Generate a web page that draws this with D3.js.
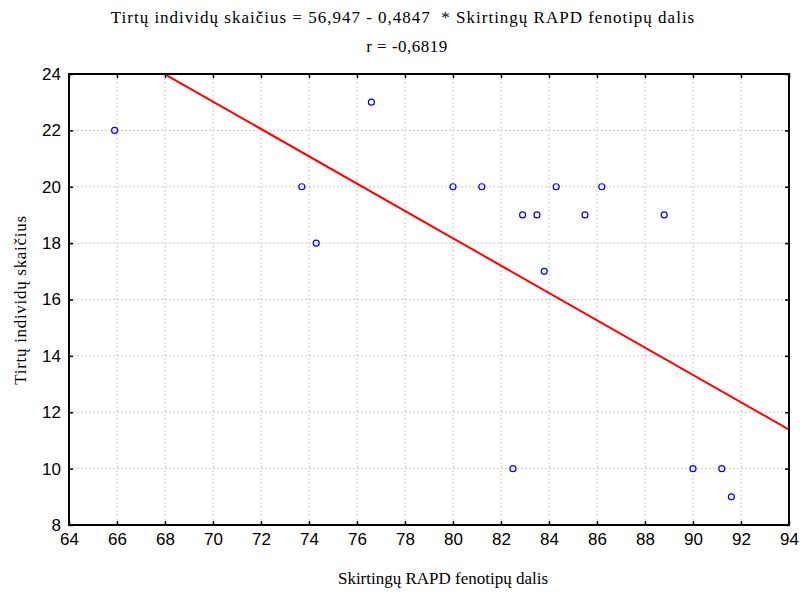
<!DOCTYPE html>
<html>
<head>
<meta charset="utf-8">
<script src="https://cdn.jsdelivr.net/npm/d3@7"></script>
<style>
  body { margin: 0; background: #fff; }
  .tick text { font-family: "Liberation Sans", Arial, sans-serif; font-size: 17px; fill: #000; }
  .ttl { font-family: "Liberation Serif", "Times New Roman", serif; fill: #000; }
</style>
</head>
<body>
<div id="chart"></div>
<script>
// share of different RAPD phenotypes (%) vs number of individuals studied
const phenotypeShare = [65.9, 73.7, 74.3, 76.6, 80.0, 81.2, 82.9, 83.5, 84.3, 85.5, 86.2, 88.8, 83.8, 82.5, 90.0, 91.2, 91.6];
const individuals    = [22,   20,   18,   23,   20,   20,   19,   19,   20,   19,   20,   19,   17,   10,   10,   10,   9];
const xTicks = [64, 66, 68, 70, 72, 74, 76, 78, 80, 82, 84, 86, 88, 90, 92, 94];
const yTicks = [8, 10, 12, 14, 16, 18, 20, 22, 24];
const intercept = 56.947;
const slope = -0.4847;

const width = 800;
const height = 595;
const margin = { top: 74, right: 11, bottom: 70, left: 69 };
const innerW = width - margin.left - margin.right;
const innerH = height - margin.top - margin.bottom;

const svg = d3.select("#chart")
    .append("svg")
    .attr("width", width)
    .attr("height", height);

const x = d3.scaleLinear().domain([64, 94]).range([0, innerW]);
const y = d3.scaleLinear().domain([8, 24]).range([innerH, 0]);

const g = svg.append("g")
    .attr("transform", `translate(${margin.left},${margin.top})`);

// dotted grid
g.selectAll(".vgrid")
    .data(xTicks.slice(1, -1))
    .join("line")
    .attr("x1", d => x(d)).attr("x2", d => x(d))
    .attr("y1", 0).attr("y2", innerH)
    .attr("stroke", "#c8c8c8")
    .attr("stroke-dasharray", "2,2");

g.selectAll(".hgrid")
    .data(yTicks.slice(1, -1))
    .join("line")
    .attr("y1", d => y(d)).attr("y2", d => y(d))
    .attr("x1", 0).attr("x2", innerW)
    .attr("stroke", "#c8c8c8")
    .attr("stroke-dasharray", "2,2");

// axes
g.append("g")
    .attr("transform", `translate(0,${innerH})`)
    .call(d3.axisBottom(x).tickValues(xTicks).tickSizeInner(-4).tickSizeOuter(0).tickPadding(8))
    .call(a => a.select(".domain").remove());

g.append("g")
    .call(d3.axisLeft(y).tickValues(yTicks).tickSizeInner(-4).tickSizeOuter(0).tickPadding(8))
    .call(a => a.select(".domain").remove());

g.append("g")
    .call(d3.axisTop(x).tickValues(xTicks).tickSizeInner(-4).tickSizeOuter(0).tickFormat(""))
    .call(a => a.select(".domain").remove());

g.append("g")
    .attr("transform", `translate(${innerW},0)`)
    .call(d3.axisRight(y).tickValues(yTicks).tickSizeInner(-4).tickSizeOuter(0).tickFormat(""))
    .call(a => a.select(".domain").remove());

g.selectAll(".tick line").attr("stroke", "#000").attr("stroke-width", 1.5);

// regression line
g.append("clipPath").attr("id", "clip")
    .append("rect").attr("width", innerW).attr("height", innerH);

g.append("line")
    .attr("clip-path", "url(#clip)")
    .attr("x1", x(64)).attr("y1", y(intercept + slope * 64))
    .attr("x2", x(94)).attr("y2", y(intercept + slope * 94))
    .attr("stroke", "#ff0000")
    .attr("stroke-width", 2);

// points
g.selectAll(".dot")
    .data(phenotypeShare)
    .join("circle")
    .attr("cx", d => x(d))
    .attr("cy", (d, i) => y(individuals[i]))
    .attr("r", 3)
    .attr("fill", "none")
    .attr("stroke", "#0000ff")
    .attr("stroke-width", 1.2);

// frame
g.append("rect")
    .attr("width", innerW)
    .attr("height", innerH)
    .attr("fill", "none")
    .attr("stroke", "#000")
    .attr("stroke-width", 2);

// titles
svg.append("text").attr("class", "ttl")
    .attr("x", 403).attr("y", 23)
    .attr("text-anchor", "middle")
    .attr("font-size", "17px")
    .attr("letter-spacing", "1px")
    .attr("xml:space", "preserve")
    .text("Tirtų individų skaičius = 56,947 - 0,4847  * Skirtingų RAPD fenotipų dalis");

svg.append("text").attr("class", "ttl")
    .attr("x", 407).attr("y", 52)
    .attr("text-anchor", "middle")
    .attr("font-size", "17px")
    .attr("letter-spacing", "0.5px")
    .text("r = -0,6819");

svg.append("text").attr("class", "ttl")
    .attr("x", 443).attr("y", 584)
    .attr("text-anchor", "middle")
    .attr("font-size", "17px")
    .text("Skirtingų RAPD fenotipų dalis");

svg.append("text").attr("class", "ttl")
    .attr("transform", "translate(26,300) rotate(-90)")
    .attr("text-anchor", "middle")
    .attr("font-size", "17px")
    .attr("letter-spacing", "0.7px")
    .text("Tirtų individų skaičius");
</script>
</body>
</html>
